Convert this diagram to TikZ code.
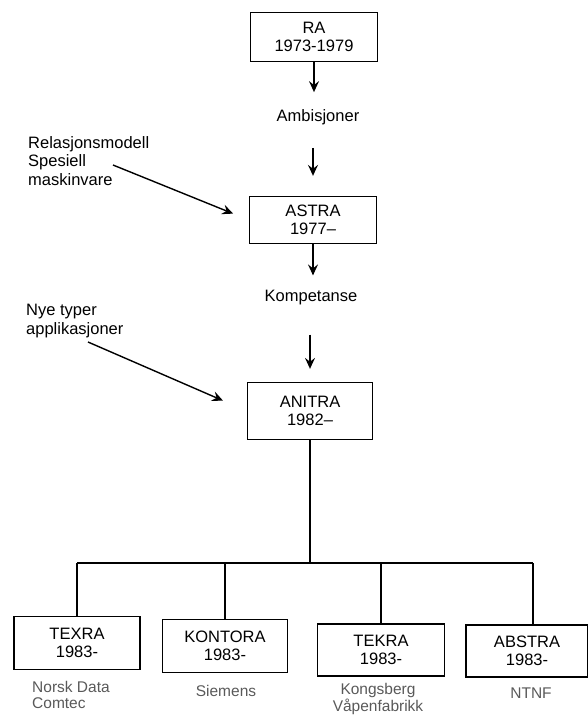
\documentclass[tikz,border=0pt]{standalone}
\usepackage{fontspec}
\setmainfont{Liberation Sans}
\usetikzlibrary{arrows.meta}
\begin{document}
\begin{tikzpicture}[x=1pt,y=-1pt,
  every node/.style={font=\fontsize{16.5}{18.5}\selectfont, inner sep=3pt},
  box/.style={draw, line width=1.3pt, align=center, minimum width=#1, minimum height=50pt},
  lbl/.style={align=center},
  sub/.style={align=center, text=black!65, font=\fontsize{15.5}{16}\selectfont},
  side/.style={align=left, anchor=north west},
  line/.style={line width=1.2pt},
  arr/.style={line width=1.4pt, -{Stealth[length=11pt,width=10pt,inset=4pt]}}]
\useasboundingbox (0,0) rectangle (588,715);
% main chain
\node[box=127pt, minimum height=49pt] (ra) at (314,37) {RA\\1973-1979};
\node[lbl] (amb) at (318,117) {Ambisjoner};
\node[box=127pt, minimum height=47pt] (astra) at (313,220) {ASTRA\\1977--};
\node[lbl] (komp) at (311,298) {Kompetanse};
\node[box=125pt, minimum height=57pt] (anitra) at (310,411) {ANITRA\\1982--};
\draw[arr, shorten >=14pt] (ra.south) -- (ra.south |- amb.north);
\draw[arr, shorten <=20pt, shorten >=20pt] (amb.south -| astra.north) -- (astra.north);
\draw[arr, shorten >=12pt] (astra.south) -- (astra.south |- komp.north);
\draw[arr, shorten <=26pt, shorten >=13pt] (komp.south -| anitra.north) -- (anitra.north);
% side inputs
\node[side] (rel) at (25,133) {Relasjonsmodell\\Spesiell\\maskinvare};
\coordinate (relstart) at (113,165);
\draw[arr, shorten >=17pt] (relstart) -- (astra.west);
\node[side] (nye) at (23,301) {Nye typer\\applikasjoner};
\coordinate (nyestart) at (88,342);
\draw[arr, shorten >=26pt] (nyestart) -- (anitra.west);
% bottom tree
\node[box=126pt, minimum height=53pt] (texra) at (77,643) {TEXRA\\1983-};
\node[box=125pt, minimum height=53pt] (kontora) at (225,646) {KONTORA\\1983-};
\node[box=127pt, minimum height=52pt] (tekra) at (381,650) {TEKRA\\1983-};
\node[box=122pt, minimum height=52pt] (abstra) at (527,651) {ABSTRA\\1983-};
\coordinate (busL) at (77,563);
\coordinate (busR) at (533,563);
\draw[line] (busL) -- (busR);
\draw[line] (anitra.south) -- (anitra.south |- busL);
\draw[line] (texra.north) -- (texra.north |- busL);
\draw[line] (kontora.north) -- (kontora.north |- busL);
\draw[line] (tekra.north) -- (tekra.north |- busL);
\draw[line] (abstra.north -| busR) -- (busR);
% captions
\node[sub, align=left, anchor=north west] (c1) at (29,678) {Norsk Data\\Comtec};
\node[sub] (c2) at (226,691) {Siemens};
\node[sub, anchor=north, font=\fontsize{15.5}{15}\selectfont] (c3) at (378,680) {Kongsberg\\Våpenfabrikk};
\node[sub] (c4) at (531,693) {NTNF};
\end{tikzpicture}
\end{document}
